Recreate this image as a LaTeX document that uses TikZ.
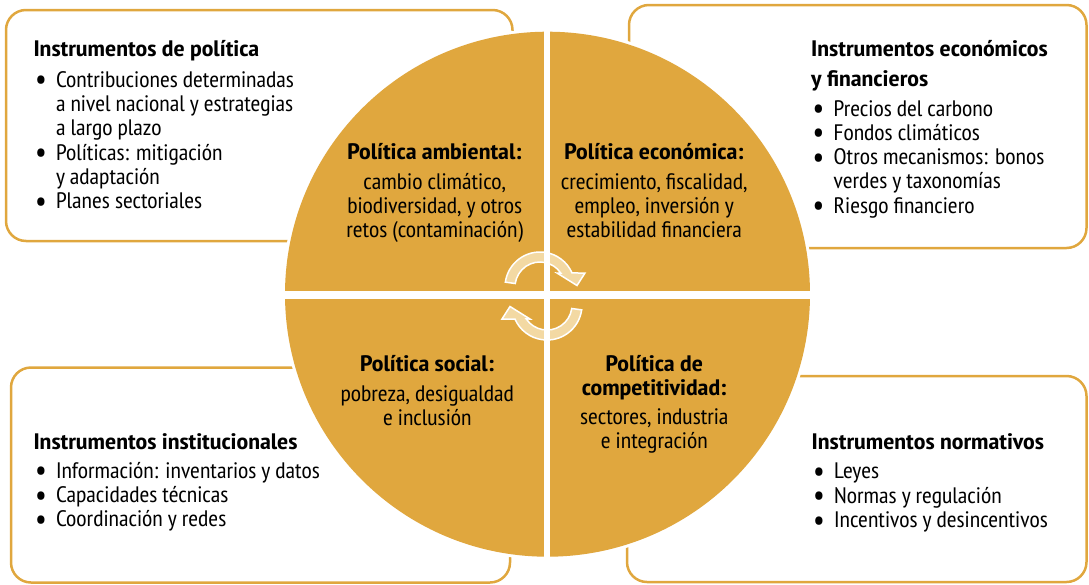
\documentclass[tikz,border=0pt]{standalone}
\usepackage{fontspec}
\IfFontExistsTF{PT Sans Narrow}{\setmainfont{PT Sans Narrow}[FakeStretch=1.06, BoldFeatures={FakeStretch=1.17}]}{\setmainfont{Liberation Sans}[FakeStretch=0.82]}
\usepackage{xcolor}
\usepackage{tikz}
\definecolor{gold}{RGB}{224, 167, 62}
\definecolor{cream}{RGB}{243, 217, 163}
\usetikzlibrary{positioning, calc}
\newcommand{\itm}{\raisebox{-0.12em}{\scalebox{1.35}{\textbullet}}}

\begin{document}
\begin{tikzpicture}[x=1pt, y=-1pt,
    frame/.style={draw=gold, line width=2.5pt, rounded corners=20pt},
    head/.style={anchor=base west, inner sep=0pt, font=\fontsize{22.4}{24.3}\selectfont\bfseries},
    list/.style={anchor=base west, inner sep=0pt, font=\fontsize{22.4}{24.3}\selectfont},
    quad/.style={anchor=base, inner sep=0pt, font=\fontsize{22.4}{23.8}\selectfont},
    cyc/.style={fill=cream, draw=white, line width=1.5pt}
]
    \useasboundingbox (0,0) rectangle (1089,584);

    % four instrument boxes
    \draw[frame] (6,10) rectangle (512.5,241);
    \draw[frame] (629,5) rectangle (1086.5,248);
    \draw[frame] (11,367.5) rectangle (510,582.5);
    \draw[frame] (627,376) rectangle (1086.5,582);

    \node[head] (polTitle) at (33.3,56.7) {Instrumentos de política};
    \node[list, below=30.6pt of polTitle.base west, anchor=base west, xshift=1.5pt] (polList) {%
        \begin{tabular}[t]{@{}p{21pt}@{}l@{}}
        \itm & Contribuciones determinadas\\
             & a nivel nacional y estrategias\\
             & a largo plazo\\
        \itm & Políticas: mitigación\\
             & y adaptación\\
        \itm & Planes sectoriales
        \end{tabular}};

    \node[head] (ecoTitle) at (811,56.7) {Instrumentos económicos};
    \node[head, below=30pt of ecoTitle.base west, anchor=base west] (ecoTitleB) {y financieros};
    \node[list, below=29.3pt of ecoTitleB.base west, anchor=base west, xshift=1.5pt] (ecoList) {%
        \begin{tabular}[t]{@{}p{21pt}@{}l@{}}
        \itm & Precios del carbono\\
        \itm & Fondos climáticos\\
        \itm & Otros mecanismos: bonos\\
             & verdes y taxonomías\\
        \itm & Riesgo financiero
        \end{tabular}};

    \node[head] (instTitle) at (33.3,449.3) {Instrumentos institucionales};
    \node[list, below=29pt of instTitle.base west, anchor=base west, xshift=1.5pt] (instList) {%
        \begin{tabular}[t]{@{}p{21pt}@{}l@{}}
        \itm & Información: inventarios y datos\\
        \itm & Capacidades técnicas\\
        \itm & Coordinación y redes
        \end{tabular}};

    \node[head] (normTitle) at (811.5,449.3) {Instrumentos normativos};
    \node[list, below=29.5pt of normTitle.base west, anchor=base west, xshift=1.5pt] (normList) {%
        \begin{tabular}[t]{@{}p{21pt}@{}l@{}}
        \itm & Leyes\\
        \itm & Normas y regulación\\
        \itm & Incentivos y desincentivos
        \end{tabular}};

    % policy circle
    \fill[white] (547.5,294.2) circle[radius=265.5];
    \fill[gold] (547.5,294.2) circle[radius=262.5];

    \node[quad] (amb) at (434.7,159.3) {%
        \begin{tabular}[t]{@{}c@{}}
        \textbf{Política ambiental:}\\[6.5pt]
        cambio climático,\\
        biodiversidad, y otros\\
        retos (contaminación)
        \end{tabular}};
    \node[quad] (eco) at (654.2,159.3) {%
        \begin{tabular}[t]{@{}c@{}}
        \textbf{Política económica:}\\[6.5pt]
        crecimiento, fiscalidad,\\
        empleo, inversión y\\
        estabilidad financiera
        \end{tabular}};
    \node[quad] (soc) at (427.3,371.7) {%
        \begin{tabular}[t]{@{}c@{}}
        \textbf{Política social:}\\[6pt]
        pobreza, desigualdad\\
        e inclusión
        \end{tabular}};
    \node[quad] (comp) at (654.3,371.7) {%
        \begin{tabular}[t]{@{}c@{}}
        \textbf{Política de}\\
        \textbf{competitividad:}\\[5pt]
        sectores, industria\\
        e integración
        \end{tabular}};

    % cycle arrows
    \path[cyc] (540,287) ++(-172:35) arc[start angle=-172, end angle=-23.6, radius=35]
        -- (585,273) -- (577,285.5) -- (557,273)
        -- ($(540,287)+(-34:25)$) arc[start angle=-34, end angle=-172, radius=25] -- cycle;
    \begin{scope}[rotate around={180:(543.5,296)}]
        \path[cyc] (540,287) ++(-172:35) arc[start angle=-172, end angle=-23.6, radius=35]
            -- (585,273) -- (577,285.5) -- (557,273)
            -- ($(540,287)+(-34:25)$) arc[start angle=-34, end angle=-172, radius=25] -- cycle;
    \end{scope}

    % quadrant gaps
    \fill[white] (543.8,20) rectangle (550.3,570);
    \fill[white] (270,291) rectangle (825,299);
\end{tikzpicture}
\end{document}
